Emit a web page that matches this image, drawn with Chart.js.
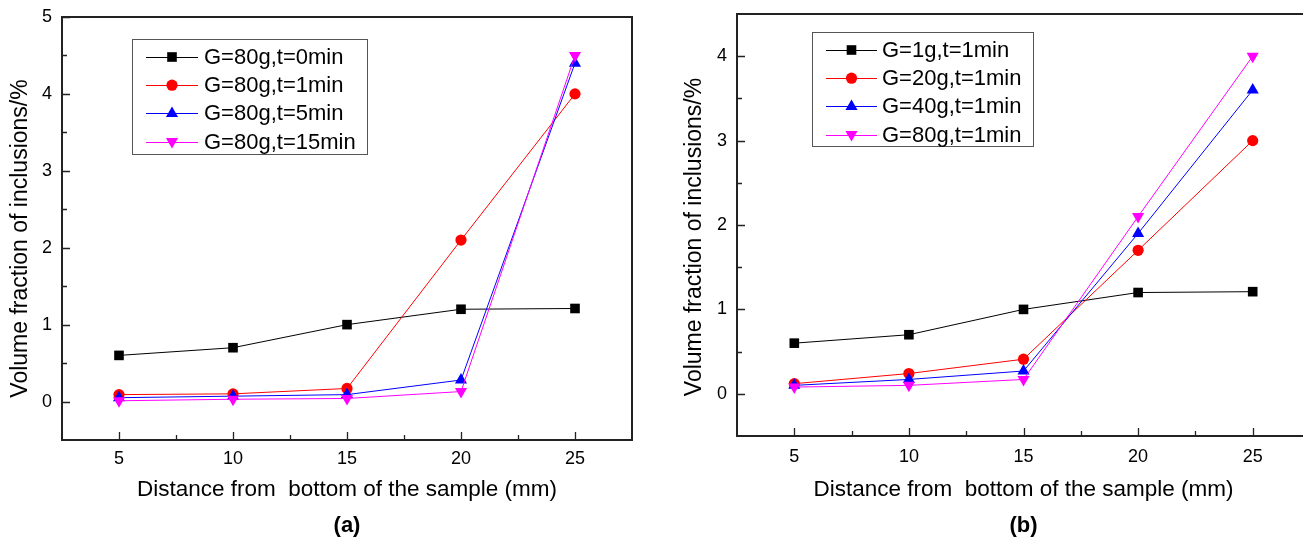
<!DOCTYPE html>
<html>
<head>
<meta charset="utf-8">
<script src="https://cdn.jsdelivr.net/npm/chart.js@4.4.1/dist/chart.umd.min.js"></script>
<style>
  html, body { margin: 0; padding: 0; background: #fff; overflow: hidden; width: 1303px; height: 539px; }
  .wrap { position: absolute; top: 0; height: 539px; width: 650px; }
  #wa { left: 0; }
  #wb { left: 680px; }
</style>
</head>
<body>
<div class="wrap" id="wa"><canvas id="ca"></canvas></div>
<div class="wrap" id="wb"><canvas id="cb"></canvas></div>
<script>
// ---------- data ----------
const distances = [5, 10, 15, 20, 25];

const labelsA = ['G=80g,t=0min', 'G=80g,t=1min', 'G=80g,t=5min', 'G=80g,t=15min'];
const a_t0  = [0.60, 0.70, 1.00, 1.20, 1.21];
const a_t1  = [0.09, 0.10, 0.17, 2.10, 4.00];
const a_t5  = [0.05, 0.07, 0.09, 0.28, 4.40];
const a_t15 = [0.01, 0.03, 0.04, 0.13, 4.50];

const labelsB = ['G=1g,t=1min', 'G=20g,t=1min', 'G=40g,t=1min', 'G=80g,t=1min'];
const b_g1  = [0.60, 0.70, 1.00, 1.20, 1.21];
const b_g20 = [0.12, 0.24, 0.41, 1.70, 3.00];
const b_g40 = [0.10, 0.17, 0.27, 1.90, 3.60];
const b_g80 = [0.08, 0.10, 0.17, 2.10, 4.00];

const xTicks = [5, 10, 15, 20, 25];
const xMinorTicks = [7.5, 12.5, 17.5, 22.5];
const yTicksA = [0, 1, 2, 3, 4, 5];
const yMinorA = [0.5, 1.5, 2.5, 3.5, 4.5];
const yTicksB = [0, 1, 2, 3, 4];
const yMinorB = [0.5, 1.5, 2.5, 3.5];

const xTitle = 'Distance from  bottom of the sample (mm)';
const yTitle = 'Volume fraction of inclusions/%';

// ---------- styles ----------
const FONT = 'Liberation Sans, Arial, sans-serif';
const seriesStyles = [
  { color: '#000000', pointStyle: 'rect', radius: 6.8, rotation: 0 },
  { color: '#ff0000', pointStyle: 'circle', radius: 5.6, rotation: 0 },
  { color: '#0000ff', pointStyle: 'triangle', radius: 7, rotation: 0 },
  { color: '#ff00ff', pointStyle: 'triangle', radius: 7, rotation: 180 }
];

function makeDatasets(labels, series) {
  return series.map((vals, i) => {
    const s = seriesStyles[i];
    return {
      label: labels[i],
      data: distances.map((x, j) => ({ x: x, y: vals[j] })),
      borderColor: s.color,
      backgroundColor: s.color,
      borderWidth: 1,
      pointStyle: s.pointStyle,
      pointRadius: s.radius,
      pointHoverRadius: s.radius,
      pointRotation: s.rotation,
      pointBorderWidth: 0,
      pointBackgroundColor: s.color,
      tension: 0,
      order: series.length - i
    };
  });
}

// frame + inward ticks plugin
const framePlugin = {
  id: 'originFrame',
  afterDatasetsDraw(chart, args, opts) {
    const { ctx, chartArea: a, scales } = chart;
    const xs = scales.x, ys = scales.y;
    ctx.save();
    ctx.strokeStyle = '#222';
    ctx.lineWidth = 1.3;
    ctx.beginPath();
    opts.xMajor.forEach(v => { const px = Math.round(xs.getPixelForValue(v)) + 0.5; ctx.moveTo(px, a.bottom); ctx.lineTo(px, a.bottom - 8); });
    opts.xMinor.forEach(v => { const px = Math.round(xs.getPixelForValue(v)) + 0.5; ctx.moveTo(px, a.bottom); ctx.lineTo(px, a.bottom - 5); });
    opts.yMajor.forEach(v => { const py = Math.round(ys.getPixelForValue(v)) + 0.5; ctx.moveTo(a.left, py); ctx.lineTo(a.left + 8, py); });
    opts.yMinor.forEach(v => { const py = Math.round(ys.getPixelForValue(v)) + 0.5; ctx.moveTo(a.left, py); ctx.lineTo(a.left + 5, py); });
    ctx.stroke();
    ctx.lineWidth = 2;
    ctx.strokeRect(a.left, a.top, a.right - a.left, a.bottom - a.top);
    ctx.restore();
  },
  afterDraw(chart, args, opts) {
    const { ctx, chartArea: a } = chart;
    ctx.save();
    ctx.fillStyle = '#000';
    ctx.font = opts.yTitleSize + 'px ' + FONT;
    ctx.textAlign = 'center';
    ctx.textBaseline = 'middle';
    ctx.translate(opts.yTitleX, (a.top + a.bottom) / 2 + opts.yTitleDy);
    ctx.rotate(-Math.PI / 2);
    ctx.fillText(opts.yTitle, 0, 0);
    ctx.restore();
  }
};

// Origin-style legend box plugin
const boxLegendPlugin = {
  id: 'boxLegend',
  afterDatasetsDraw(chart, args, opts) {
    const { ctx, chartArea: a } = chart;
    const bx = a.left + opts.dx, by = a.top + opts.dy;
    ctx.save();
    ctx.fillStyle = '#fff';
    ctx.fillRect(bx, by, opts.w, opts.h);
    ctx.strokeStyle = '#555';
    ctx.lineWidth = 1;
    ctx.strokeRect(Math.round(bx) + 0.5, Math.round(by) + 0.5, opts.w, opts.h);
    ctx.font = opts.fontSize + 'px ' + FONT;
    ctx.textBaseline = 'middle';
    ctx.textAlign = 'left';
    chart.data.datasets.forEach((ds, i) => {
      const cy = by + opts.firstRow + i * opts.rowGap;
      ctx.strokeStyle = ds.borderColor;
      ctx.lineWidth = 1;
      ctx.beginPath();
      ctx.moveTo(bx + opts.lineX0, Math.round(cy) + 0.5);
      ctx.lineTo(bx + opts.lineX1, Math.round(cy) + 0.5);
      ctx.stroke();
      ctx.fillStyle = ds.pointBackgroundColor;
      Chart.helpers.drawPoint(ctx, {
        pointStyle: ds.pointStyle, rotation: ds.pointRotation,
        radius: ds.pointRadius, borderWidth: 0
      }, bx + (opts.lineX0 + opts.lineX1) / 2, cy);
      ctx.fillStyle = '#000';
      ctx.fillText(ds.label, bx + opts.textX, cy + 1);
    });
    ctx.restore();
  }
};

function makeChart(canvasId, cfg) {
  return new Chart(document.getElementById(canvasId), {
    type: 'line',
    data: { datasets: makeDatasets(cfg.labels, cfg.series) },
    plugins: [framePlugin, boxLegendPlugin],
    options: {
      responsive: true,
      maintainAspectRatio: false,
      animation: false,
      events: [],
      layout: { padding: { top: cfg.padTop, right: cfg.padRight, left: 0, bottom: 0 } },
      scales: {
        x: {
          type: 'linear',
          min: 2.5, max: 27.5,
          afterBuildTicks: s => { s.ticks = xTicks.map(v => ({ value: v })); },
          afterFit: s => { s.height = cfg.xAxisH; s.paddingLeft = 0; s.paddingRight = 0; s.paddingTop = 0; s.paddingBottom = 0; },
          grid: { display: false, drawTicks: false },
          border: { display: false },
          ticks: { color: '#000', font: { family: FONT, size: 18 }, padding: cfg.xTickPad, maxRotation: 0 },
          title: { display: true, text: xTitle, color: '#000', font: { family: FONT, size: 22.5 }, padding: { top: 0, bottom: cfg.xTitlePadB } }
        },
        y: {
          type: 'linear',
          min: -0.5, max: cfg.yMax,
          afterBuildTicks: s => { s.ticks = cfg.yTicks.map(v => ({ value: v })); },
          afterFit: s => { s.width = cfg.yAxisW; s.paddingTop = 0; s.paddingBottom = 0; s.paddingLeft = 0; s.paddingRight = 0; },
          grid: { display: false, drawTicks: false },
          border: { display: false },
          ticks: { color: '#000', font: { family: FONT, size: 18 }, padding: 10 },
          title: { display: false }
        }
      },
      plugins: {
        legend: { display: false },
        tooltip: { enabled: false },
        title: {
          display: true, text: cfg.panel, position: 'bottom', fullSize: false,
          color: '#000', font: { family: FONT, size: 22, weight: 'bold' },
          padding: { top: 0, bottom: 0 }
        },
        originFrame: { xMajor: xTicks, xMinor: xMinorTicks, yMajor: cfg.yTicks, yMinor: cfg.yMinor,
                       yTitle: yTitle, yTitleSize: 23, yTitleX: cfg.yTitleX, yTitleDy: cfg.yTitleDy },
        boxLegend: cfg.legend
      }
    }
  });
}

makeChart('ca', {
  labels: labelsA, series: [a_t0, a_t1, a_t5, a_t15],
  yMax: 5, yTicks: yTicksA, yMinor: yMinorA,
  padTop: 17, padRight: 18, yAxisW: 62, xAxisH: 72.6,
  xTickPad: 8, xTitlePadB: 9, yTitleX: 20.5, yTitleDy: 10, panel: '(a)',
  legend: { dx: 70, dy: 22, w: 235, h: 115, firstRow: 18, rowGap: 28.2, lineX0: 14, lineX1: 66, textX: 72, fontSize: 22 }
});

makeChart('cb', {
  labels: labelsB, series: [b_g1, b_g20, b_g40, b_g80],
  yMax: 4.5, yTicks: yTicksB, yMinor: yMinorB,
  padTop: 14, padRight: 20, yAxisW: 57, xAxisH: 76.6,
  xTickPad: 10, xTitlePadB: 9, yTitleX: 14.5, yTitleDy: 12, panel: '(b)',
  legend: { dx: 75, dy: 18, w: 221, h: 114, firstRow: 18, rowGap: 28.2, lineX0: 14, lineX1: 65, textX: 70, fontSize: 22 }
});
</script>
</body>
</html>
